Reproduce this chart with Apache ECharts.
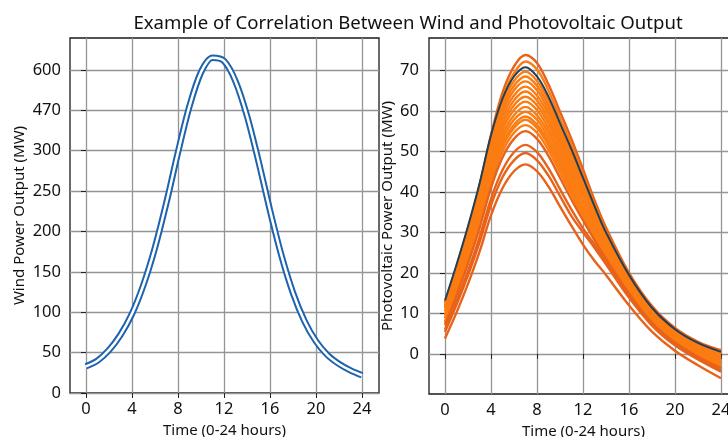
<!DOCTYPE html>
<html>
<head>
<meta charset="utf-8">
<script src="https://cdn.jsdelivr.net/npm/echarts@6/dist/echarts.min.js"></script>
<style>
html,body{margin:0;padding:0;background:#fff;}
#chart{width:728px;height:437px;}
</style>
</head>
<body>
<div id="chart"></div>
<script>
// ---------- DATA ----------
const titleText = 'Example of Correlation Between Wind and Photovoltaic Output';
const xTicks = [0, 4, 8, 12, 16, 20, 24];

// Wind panel (axis units: one tick step = 50; tick labels as printed)
const windHours = [0,1,2,3,4,5,6,7,8,9,10,11,12,13,14,15,16,17,18,19,20,21,22,23,24];
const windValues = [33,40,53,72,98,134,180,236,298,355,397,415,411,386,343,287,226,170,124,89,64,47,36,28,22];
const windTickValues = [0,50,100,150,200,250,300,350,400];
const windTickLabels = ['0','50','100','150','200','250','300','470','600'];

// PV panel
const pvHours = [0,1,2,3,4,5,6,7,8,9,10,11,12,13,14,16,18,20,22,24];
const pvTicks = [0,10,20,30,40,50,60,70];
const pvReference = [13.2,22,31.5,42,54,63,68.5,70.8,68.5,63.5,57,50.5,43.5,36.5,30,19.5,11.4,6.1,2.7,0.5];
const pvScen01 = [11.5,20.5,30.5,41.5,54.0,64.5,71.0,73.8,71.8,66.5,59.8,53.0,45.6,38.0,31.2,20.0,11.8,6.4,3.0,0.9];
const pvScen02 = [12.5,21.5,31.0,41.5,53.5,63.2,69.3,72.2,70.2,65.0,58.3,51.6,44.2,36.9,30.2,19.3,11.2,5.9,2.5,0.3];
const pvScen03 = [12.6,21.3,30.7,41.2,53.1,62.0,67.4,69.7,67.4,62.5,56.0,49.6,42.6,35.5,29.2,18.9,10.9,5.7,2.3,0.0];
const pvScen04 = [12.0,20.6,29.9,40.2,52.0,60.8,66.2,68.5,66.2,61.3,55.0,48.6,41.4,34.6,28.4,18.4,10.5,5.3,1.9,-0.5];
const pvScen05 = [11.3,19.9,29.1,39.3,51.0,59.7,65.1,67.3,65.1,60.2,53.9,47.6,40.4,33.6,27.6,17.8,10.0,4.9,1.4,-1.0];
const pvScen06 = [11.3,19.6,28.7,38.6,50.0,58.6,63.8,66.0,63.8,59.1,52.9,46.7,40.0,33.6,27.9,18.0,10.2,5.0,1.6,-0.8];
const pvScen07 = [10.5,18.8,27.7,37.6,49.0,57.4,62.6,64.8,62.6,57.9,51.8,45.7,38.8,32.4,26.7,17.2,9.6,4.5,1.0,-1.5];
const pvScen08 = [10.5,18.6,27.3,37.0,48.0,56.3,61.4,63.5,61.4,56.8,50.8,44.8,38.6,32.7,27.3,17.5,9.9,4.7,1.3,-1.2];
const pvScen09 = [9.6,17.7,26.4,36.0,46.9,55.2,60.2,62.3,60.2,55.6,49.7,43.7,37.3,31.4,26.0,16.7,9.2,4.1,0.6,-2.0];
const pvScen10 = [9.5,17.4,25.9,35.3,46.0,54.0,58.9,61.0,58.9,54.5,48.7,42.9,37.0,31.5,26.3,16.9,9.3,4.2,0.8,-1.8];
const pvScen11 = [8.8,16.6,25.0,34.3,44.9,52.9,57.8,59.8,57.8,53.3,47.6,41.8,35.9,30.3,25.2,16.1,8.7,3.7,0.2,-2.5];
const pvScen12 = [8.8,16.4,24.6,33.7,44.1,51.9,56.6,58.6,56.6,52.3,46.7,41.1,35.4,30.3,25.6,16.4,8.9,3.9,0.4,-2.2];
const pvScen13 = [8.0,15.6,23.8,32.9,43.3,51.1,55.8,57.8,55.8,51.5,45.9,40.3,34.6,29.2,24.3,15.5,8.2,3.2,-0.3,-3.0];
const pvScen14 = [7.6,15.1,23.1,32.0,42.2,49.9,54.6,56.5,54.6,50.3,44.8,39.3,34.0,28.8,24.0,15.2,8.0,3.1,-0.4,-3.2];
const pvScen15 = [7.1,14.4,22.3,31.0,41.0,48.5,53.1,55.0,53.1,48.9,43.5,38.1,33.0,28.1,23.5,14.9,7.7,2.8,-0.7,-3.5];
const pvScen16 = [6.0,13.0,20.5,28.8,38.3,45.4,49.8,51.6,49.8,45.8,40.7,35.6,31.0,27.0,22.8,14.3,7.3,2.4,-1.1,-4.0];
const pvScen17 = [5.4,12.1,19.4,27.5,36.7,43.6,47.8,49.6,47.8,44.0,39.0,34.0,30.0,26.2,22.1,13.9,7.0,2.1,-1.4,-4.4];
const pvScen18 = [3.8,10.2,17.3,25.2,34.2,40.9,45.1,46.8,45.1,41.3,36.4,31.6,27.0,23.0,19.5,12.0,5.5,0.8,-2.8,-6.0];
const pvScenarios = [pvScen01,pvScen02,pvScen03,pvScen04,pvScen05,pvScen06,pvScen07,pvScen08,pvScen09,
  pvScen10,pvScen11,pvScen12,pvScen13,pvScen14,pvScen15,pvScen16,pvScen17,pvScen18];
const pvScenarioIsolated = [true,false,false,false,false,false,false,false,false,false,false,false,false,false,true,true,true,true];

// ---------- CHART ----------
const FONT = 'Noto Sans';
const TXT = '#111';
const GRIDC = '#959595';
function pairs(xs, ys){ return xs.map((x,i)=>[x, ys[i]]); }

function xAxisCfg(idx){
  return {
    type:'value', gridIndex:idx, min:-1.39, max:25.48,
    axisLine:{show:false},
    axisTick:{show:true, length:5, customValues:xTicks, lineStyle:{color:'#222', width:1}},
    axisLabel:{customValues:xTicks, color:TXT, fontSize:16.5, fontFamily:FONT, margin:8},
    splitLine:{show:true, lineStyle:{color:GRIDC, width:1.3}},
    name:'Time (0-24 hours)', nameLocation:'middle', nameGap:29,
    nameTextStyle:{color:TXT, fontSize:15, fontFamily:FONT}
  };
}

const series = [];
series.push({type:'line', xAxisIndex:0, yAxisIndex:0, data:pairs(windHours, windValues), smooth:0.3,
  showSymbol:false, lineStyle:{color:'#1d63ad', width:6.5}, z:3, silent:true});
series.push({type:'line', xAxisIndex:0, yAxisIndex:0, data:pairs(windHours, windValues), smooth:0.3,
  showSymbol:false, lineStyle:{color:'#ffffff', width:2.5}, z:4, silent:true});

pvScenarios.forEach((arr, i) => {
  series.push({type:'line', xAxisIndex:1, yAxisIndex:1, data:pairs(pvHours, arr), smooth:0.35,
    showSymbol:false, lineStyle:{color: pvScenarioIsolated[i] ? '#e8621a' : '#fb7c12', width:2.4}, z:3, silent:true});
});
series.push({type:'line', xAxisIndex:1, yAxisIndex:1, data:pairs(pvHours, pvReference), smooth:0.35,
  showSymbol:false, lineStyle:{color:'#213f55', width:2}, z:5, silent:true});

const option = {
  animation:false,
  backgroundColor:'#fff',
  title:{text:titleText, left:403, top:9, textAlign:'center',
    textStyle:{color:TXT, fontSize:18.6, fontWeight:'normal', fontFamily:FONT}},
  grid:[
    {left:70, top:38, right:349, bottom:44, containLabel:false, outerBoundsMode:'none',
     show:true, borderColor:'#1a1a1a', borderWidth:1.3, backgroundColor:'transparent'},
    {left:429, top:38, right:-10, bottom:43, containLabel:false, outerBoundsMode:'none',
     show:true, borderColor:'#1a1a1a', borderWidth:1.3, backgroundColor:'transparent'}
  ],
  xAxis:[xAxisCfg(0), xAxisCfg(1)],
  yAxis:[
    {type:'value', gridIndex:0, min:0, max:439.4,
     axisLine:{show:false},
     axisTick:{show:true, length:5, customValues:windTickValues, lineStyle:{color:'#222'}},
     axisLabel:{customValues:windTickValues, color:TXT, fontSize:16.5, fontFamily:FONT, margin:9,
       formatter:(v)=>windTickLabels[windTickValues.indexOf(v)]},
     splitLine:{show:true, lineStyle:{color:GRIDC, width:1.3}},
     name:'Wind Power Output (MW)', nameLocation:'middle', nameGap:43,
     nameTextStyle:{color:TXT, fontSize:15, fontFamily:FONT}},
    {type:'value', gridIndex:1, min:-9.9, max:78,
     axisLine:{show:false},
     axisTick:{show:true, length:5, customValues:pvTicks, lineStyle:{color:'#222'}},
     axisLabel:{customValues:pvTicks, color:TXT, fontSize:16.5, fontFamily:FONT, margin:10},
     splitLine:{show:true, lineStyle:{color:GRIDC, width:1.3}},
     name:'Photovoltaic Power Output (MW)', nameLocation:'middle', nameGap:34,
     nameTextStyle:{color:TXT, fontSize:15, fontFamily:FONT}}
  ],
  series:series
};

const chart = echarts.init(document.getElementById('chart'), null, {renderer:'canvas'});
chart.setOption(option);
</script>
</body>
</html>
